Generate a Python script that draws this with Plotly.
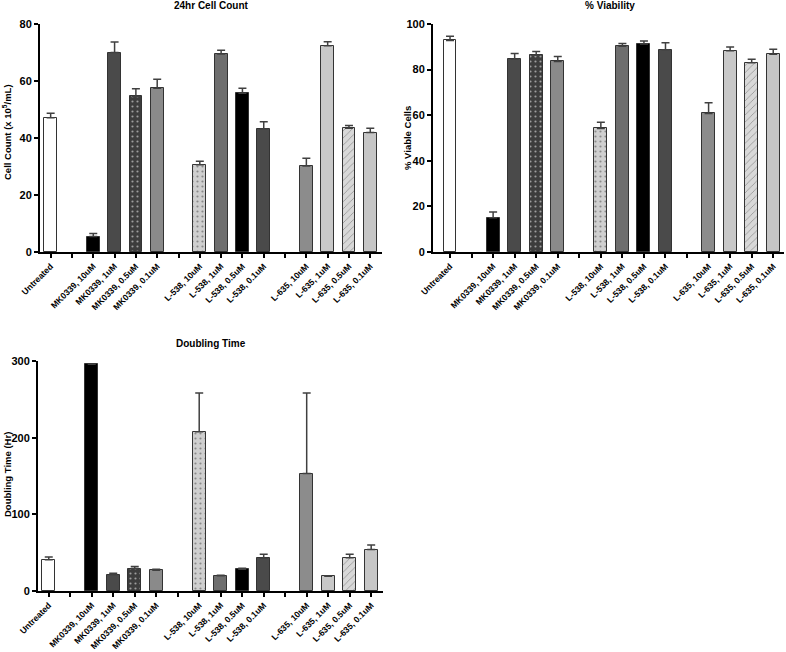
import plotly.graph_objects as go

# ---------------- data ----------------
categories = ["Untreated", "", "MK0339, 10uM", "MK0339, 1uM", "MK0339, 0.5uM", "MK0339, 0.1uM", "",
              "L-538, 10uM", "L-538, 1uM", "L-538, 0.5uM", "L-538, 0.1uM", "",
              "L-635, 10uM", "L-635, 1uM", "L-635, 0.5uM", "L-635, 0.1uM"]

cell_count = [47.1, None, 5.4, 70.0, 54.6, 57.5, None, 30.6, 69.5, 55.7, 43.2, None, 30.2, 72.4, 43.4, 41.9]
cell_count_err = [1.6, None, 1.1, 3.7, 2.7, 3.1, None, 1.2, 1.3, 1.8, 2.5, None, 2.7, 1.4, 1.0, 1.5]

viability = [92.8, None, 15.0, 84.5, 86.3, 83.6, None, 54.2, 90.2, 91.2, 88.7, None, 60.8, 88.3, 83.0, 86.7]
viability_err = [1.8, None, 2.5, 2.6, 1.6, 2.1, None, 2.7, 1.2, 1.3, 3.1, None, 4.7, 1.6, 1.5, 2.2]

doubling = [40.9, None, 295.6, 21.3, 29.2, 27.0, None, 207.7, 20.0, 28.3, 42.7, None, 153.2, 19.2, 43.5, 54.0]
doubling_err = [3.5, None, None, 1.8, 2.6, 1.3, None, 50.5, 0.5, 1.3, 5.2, None, 105.0, 0.8, 4.4, 6.1]

# ---------------- styles ----------------
fill_colors = ["#ffffff", None, "#000000", "#4a4a4a", "#3c3c3c", "#8a8a8a", None,
               "#cfcfcf", "#6e6e6e", "#000000", "#4a4a4a", None,
               "#8c8c8c", "#c8c8c8", "#d8d8d8", "#c6c6c6"]
pattern_shapes = ["", None, "", "", ".", "", None, ".", "", "", "", None, "", "", "/", ""]
pattern_fg = ["#ffffff", None, "#000000", "#4a4a4a", "#8a8a8a", "#8a8a8a", None,
              "#eeeeee", "#6e6e6e", "#000000", "#4a4a4a", None,
              "#8c8c8c", "#c8c8c8", "#a8a8a8", "#c6c6c6"]

FONT = "Liberation Sans, Arial, Helvetica, sans-serif"
W, H = 786, 652

fig = go.Figure()


def add_bars(values, errs, xa, ya):
    idx = [i for i, v in enumerate(values) if v is not None]
    fig.add_trace(go.Bar(
        x=idx,
        y=[values[i] for i in idx],
        width=0.6,
        xaxis=xa, yaxis=ya,
        marker=dict(
            color=[fill_colors[i] for i in idx],
            line=dict(color="#333333", width=1),
            pattern=dict(
                shape=[pattern_shapes[i] for i in idx],
                fgcolor=[pattern_fg[i] for i in idx],
                fillmode="overlay",
                size=5,
                solidity=0.15,
            ),
        ),
        error_y=dict(
            type="data",
            symmetric=False,
            array=[errs[i] if errs[i] is not None else float("nan") for i in idx],
            arrayminus=[0 for _ in idx],
            color="#404040",
            thickness=1.5,
            width=4,
        ),
        showlegend=False,
        hoverinfo="x+y",
    ))


add_bars(cell_count, cell_count_err, "x", "y")
add_bars(viability, viability_err, "x2", "y2")
add_bars(doubling, doubling_err, "x3", "y3")


def px_x(p):
    return p / W


def px_y(p):
    return 1 - p / H


tick_font = dict(family=FONT, size=8.6, color="black", weight="bold")


def xaxis_def(x0, x1, anchor, rng):
    return dict(
        domain=[px_x(x0), px_x(x1)],
        anchor=anchor,
        range=rng,
        automargin=False,
        tickmode="array",
        tickvals=list(range(len(categories))),
        ticktext=categories,
        tickangle=-45,
        ticks="outside",
        ticklen=4,
        tickwidth=1.5,
        tickcolor="black",
        showline=True,
        linecolor="black",
        linewidth=2,
        showgrid=False,
        zeroline=False,
        tickfont=tick_font,
        fixedrange=True,
    )


def yaxis_def(y0, y1, anchor, rng, dtick):
    return dict(
        domain=[px_y(y1), px_y(y0)],
        anchor=anchor,
        range=rng,
        automargin=False,
        dtick=dtick,
        ticks="outside",
        ticklen=4,
        tickwidth=1.5,
        tickcolor="black",
        showline=True,
        linecolor="black",
        linewidth=2,
        showgrid=False,
        zeroline=False,
        tickfont=dict(family=FONT, size=11, color="black", weight="bold"),
        fixedrange=True,
    )


fig.update_layout(
    width=W, height=H,
    margin=dict(l=0, r=0, t=0, b=0, autoexpand=False),
    paper_bgcolor="white",
    plot_bgcolor="white",
    bargap=0,
    xaxis=xaxis_def(40, 382, "y", [-0.5, 15.55]),
    yaxis=yaxis_def(24, 252, "x", [0, 80], 20),
    xaxis2=xaxis_def(433, 784, "y2", [-0.79, 15.5]),
    yaxis2=yaxis_def(24, 252, "x2", [0, 100], 20),
    xaxis3=xaxis_def(38, 383, "y3", [-0.5, 15.55]),
    yaxis3=yaxis_def(361, 591, "x3", [0, 300], 100),
)

title_font = dict(family=FONT, size=10, color="black", weight="bold")
axis_title_font = dict(family=FONT, size=9.5, color="black", weight="bold")
annotations = [
    dict(text="24hr Cell Count", x=px_x(211), y=px_y(6), xref="paper", yref="paper",
         showarrow=False, font=title_font, xanchor="center", yanchor="middle"),
    dict(text="% Viability", x=px_x(610), y=px_y(6), xref="paper", yref="paper",
         showarrow=False, font=title_font, xanchor="center", yanchor="middle"),
    dict(text="Doubling Time", x=px_x(211), y=px_y(343), xref="paper", yref="paper",
         showarrow=False, font=title_font, xanchor="center", yanchor="middle"),
    dict(text="Cell Count (x 10<sup>5</sup>/mL)", x=px_x(7), y=px_y(132), xref="paper", yref="paper",
         showarrow=False, font=axis_title_font, textangle=-90, xanchor="center", yanchor="middle"),
    dict(text="% Viable Cells", x=px_x(407), y=px_y(138), xref="paper", yref="paper",
         showarrow=False, font=axis_title_font, textangle=-90, xanchor="center", yanchor="middle"),
    dict(text="Doubling Time (Hr)", x=px_x(7), y=px_y(475), xref="paper", yref="paper",
         showarrow=False, font=axis_title_font, textangle=-90, xanchor="center", yanchor="middle"),
]
fig.update_layout(annotations=annotations)

fig.write_html(
    "out.html",
    config={"displayModeBar": False},
    post_script="document.body.style.margin='0';document.body.style.overflow='hidden';",
)
